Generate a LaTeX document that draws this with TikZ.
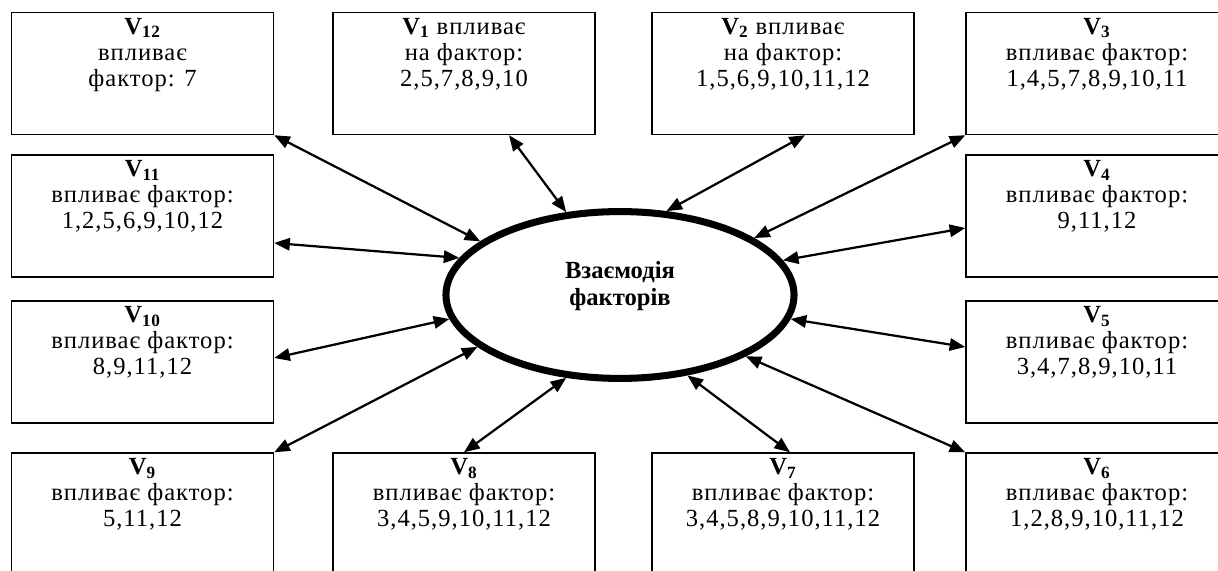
\documentclass[tikz,border=0pt]{standalone}
\usepackage{fontspec}
\setmainfont{Liberation Serif}
\usetikzlibrary{arrows.meta,calc,positioning,shapes.geometric}

\begin{document}
\begin{tikzpicture}[
    x=0.025cm, y=-0.025cm,
    >={Triangle[length=3.9mm, width=3.1mm]},
    box/.style    = {draw, line width=1pt, inner sep=0pt,
                     minimum width=6.55cm, minimum height=3.05cm},
    txt/.style    = {align=center, inner sep=0pt,
                     font=\fontsize{17.5}{18.5}\selectfont\addfontfeature{LetterSpace=4}},
    hub/.style    = {draw, ellipse, line width=5pt, inner sep=0pt,
                     minimum width=8.7cm, minimum height=4.17cm},
    hubtxt/.style = {align=center, inner sep=0pt,
                     font=\fontsize{17.5}{19.5}\selectfont\bfseries},
    link/.style   = {<->, line width=1.6pt}
]
\useasboundingbox (0,0) rectangle (1218,571);

% Central ellipse
\node[hub] (hub) at (620, 295) {};
\node[hubtxt] (hubtext) at ($(hub.center)+(0,-9)$) {Взаємодія\\факторів};

% Top row
\node[box] (v12) at (142.5, 73.5) {};
\node[box] (v1)  at (464,   73.5) {};
\node[box] (v2)  at (783,   73.5) {};
\node[box] (v3)  at (1097,  73.5) {};
\node[txt, below=0.15cm of v12.north] {\textbf{V\textsubscript{12}}\\впливає\\фактор: 7};
\node[txt, below=0.15cm of v1.north]  {\textbf{V\textsubscript{1}} впливає\\на фактор:\\2,5,7,8,9,10};
\node[txt, below=0.15cm of v2.north]  {\textbf{V\textsubscript{2}} впливає\\на фактор:\\1,5,6,9,10,11,12};
\node[txt, below=0.15cm of v3.north]  {\textbf{V\textsubscript{3}}\\впливає фактор:\\1,4,5,7,8,9,10,11};

% Side boxes
\node[box] (v11) at (142.5, 216) {};
\node[box] (v10) at (142.5, 362) {};
\node[box] (v4)  at (1097,  216) {};
\node[box] (v5)  at (1097,  362) {};
\node[txt, below=0.15cm of v11.north] {\textbf{V\textsubscript{11}}\\впливає фактор:\\1,2,5,6,9,10,12};
\node[txt, below=0.15cm of v10.north] {\textbf{V\textsubscript{10}}\\впливає фактор:\\8,9,11,12};
\node[txt, below=0.15cm of v4.north]  {\textbf{V\textsubscript{4}}\\впливає фактор:\\9,11,12};
\node[txt, below=0.15cm of v5.north]  {\textbf{V\textsubscript{5}}\\впливає фактор:\\3,4,7,8,9,10,11};

% Bottom row
\node[box] (v9) at (142.5, 514) {};
\node[box] (v8) at (464,   514) {};
\node[box] (v7) at (783,   514) {};
\node[box] (v6) at (1097,  514) {};
\node[txt, below=0.15cm of v9.north] {\textbf{V\textsubscript{9}}\\впливає фактор:\\5,11,12};
\node[txt, below=0.15cm of v8.north] {\textbf{V\textsubscript{8}}\\впливає фактор:\\3,4,5,9,10,11,12};
\node[txt, below=0.15cm of v7.north] {\textbf{V\textsubscript{7}}\\впливає фактор:\\3,4,5,8,9,10,11,12};
\node[txt, below=0.15cm of v6.north] {\textbf{V\textsubscript{6}}\\впливає фактор:\\1,2,8,9,10,11,12};

% Two-way links to the ellipse
\draw[link] (v12.south east)       -- (hub.159);
\draw[link] ($(v1.south)+(45,0)$)  -- (hub.123);
\draw[link] ($(v2.south)+(22,0)$)  -- (hub.61);
\draw[link] (v3.south west)        -- (hub.23);
\draw[link] ($(v4.west)+(0,12)$)   -- (hub.12);
\draw[link] ($(v5.west)+(0,-15)$)  -- (hub.-8);
\draw[link] (v6.north west)        -- (hub.-26);
\draw[link] ($(v7.north)+(7,0)$)   -- (hub.-50);
\draw[link] (v8.north)             -- (hub.-123);
\draw[link] (v9.north east)        -- (hub.200);
\draw[link] ($(v10.east)+(0,-4)$)  -- (hub.188);
\draw[link] ($(v11.east)+(0,27)$)  -- (hub.167);

\end{tikzpicture}
\end{document}
